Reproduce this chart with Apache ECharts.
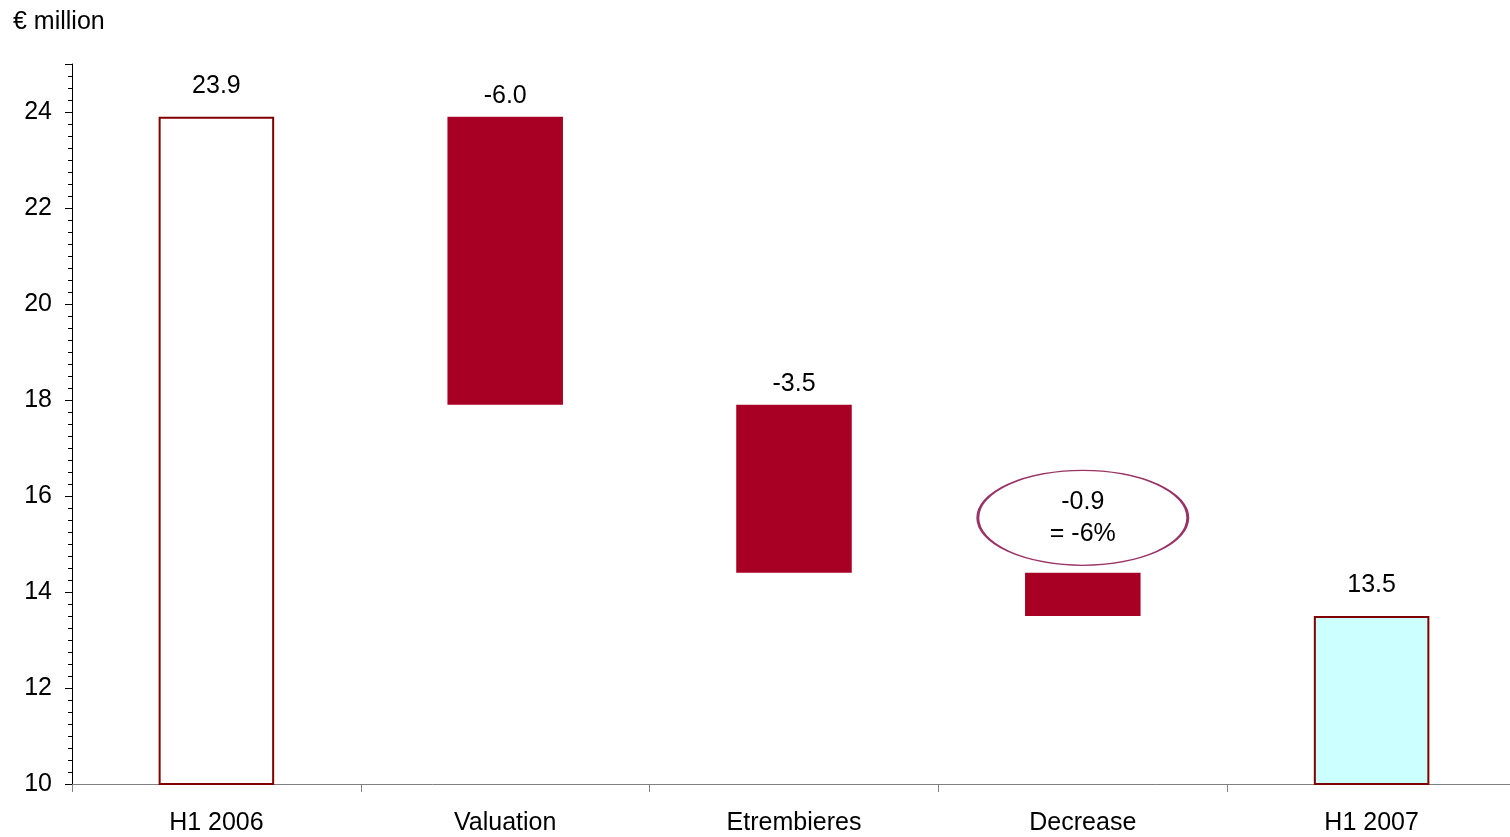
<!DOCTYPE html>
<html>
<head>
<meta charset="utf-8">
<title>€ million</title>
<script src="https://cdn.jsdelivr.net/npm/echarts@6/dist/echarts.min.js"></script>
<style>
  html, body { margin: 0; padding: 0; background: #fff; overflow: hidden; }
  /* the plot runs a few pixels past the right edge of the window */
  #chart { width: 1516px; height: 837px; }
</style>
</head>
<body>
<div id="chart"></div>
<script>
// Waterfall: opening figure, three movements, closing figure
const categories = ['H1 2006', 'Valuation', 'Etrembieres', 'Decrease', 'H1 2007'];
const openingValue = 23.9;
const changes = [-6.0, -3.5, -0.9];        // Valuation, Etrembieres, Decrease
const closingValue = 13.5;
const decreasePercent = '-6%';
const yTicks = { min: 10, max: 25, interval: 2 };

const FONT = 'Liberation Sans, Arial, sans-serif';
const FONT_SIZE = 25;
const BAR_RED = '#A70024';
const EDGE_RED = '#800000';

// Running totals give each movement bar its floating base
const baseData = [];
const moveData = [];
let running = openingValue;
baseData.push('-');
moveData.push('-');
changes.forEach(function (c) {
  const next = Math.round((running + c) * 10) / 10;
  baseData.push(Math.min(running, next));
  moveData.push(Math.abs(c));
  running = next;
});
baseData.push('-');
moveData.push('-');

const totalData = categories.map(function (_, i) {
  if (i === 0) return { value: openingValue, itemStyle: { color: '#FFFFFF' } };
  if (i === categories.length - 1) return { value: closingValue, itemStyle: { color: '#CCFFFF' } };
  return '-';
});

const chart = echarts.init(document.getElementById('chart'), null, { renderer: 'canvas' });

chart.setOption({
  animation: false,
  backgroundColor: '#ffffff',
  textStyle: { fontFamily: FONT },
  title: {
    text: '€ million',
    left: 8,
    top: 5,
    textStyle: { fontFamily: FONT, fontSize: FONT_SIZE, fontWeight: 'normal', color: '#000' }
  },
  grid: { left: 72, right: 0, top: 64, bottom: 53, containLabel: false },
  xAxis: {
    type: 'category',
    data: categories,
    axisLine: { show: true, lineStyle: { color: '#808080', width: 1 } },
    axisTick: { show: true, length: 8, alignWithLabel: false, lineStyle: { color: '#808080' } },
    axisLabel: { fontFamily: FONT, fontSize: FONT_SIZE, color: '#000', margin: 27 },
    splitLine: { show: false }
  },
  yAxis: {
    type: 'value',
    min: yTicks.min,
    max: yTicks.max,
    interval: yTicks.interval,
    axisLine: { show: true, lineStyle: { color: '#000', width: 1 } },
    axisTick: { show: true, length: 7, lineStyle: { color: '#000' } },
    minorTick: { show: true, splitNumber: 8, length: 4, lineStyle: { color: '#000' } },
    axisLabel: { fontFamily: FONT, fontSize: FONT_SIZE, color: '#000', margin: 20, showMaxLabel: false,
      formatter: function (v) { return v === yTicks.max ? '' : String(v); } },
    splitLine: { show: false }
  },
  series: [
    {
      name: 'base',
      type: 'bar',
      stack: 'fall',
      barWidth: '40%',
      data: baseData,
      itemStyle: { color: 'transparent' },
      emphasis: { disabled: true },
      silent: true
    },
    {
      name: 'movement',
      type: 'bar',
      stack: 'fall',
      barWidth: '40%',
      data: moveData.map(function (v, i) {
        if (v === '-') return '-';
        const isLast = i === categories.length - 2;
        return {
          value: v,
          label: isLast ? { show: false } : {
            show: true,
            position: 'top',
            distance: 8,
            formatter: changes[i - 1].toFixed(1)
          }
        };
      }),
      itemStyle: { color: BAR_RED },
      label: { fontFamily: FONT, fontSize: FONT_SIZE, color: '#000' },
      markPoint: {
        symbol: 'circle',
        symbolSize: [210, 95],
        symbolOffset: [0, -55],
        itemStyle: { color: '#FFFFFF', borderColor: '#993366', borderWidth: 2 },
        label: {
          show: true,
          position: 'inside',
          fontFamily: FONT,
          fontSize: FONT_SIZE,
          lineHeight: 32,
          color: '#000',
          formatter: changes[2].toFixed(1) + '\n= ' + decreasePercent
        },
        data: [{ coord: [categories[3], baseData[3] + moveData[3]] }]
      }
    },
    {
      name: 'total',
      type: 'bar',
      stack: 'fall',
      barWidth: '40%',
      data: totalData,
      itemStyle: { borderColor: EDGE_RED, borderWidth: 2 },
      label: {
        show: true,
        position: 'top',
        distance: 18,
        fontFamily: FONT,
        fontSize: FONT_SIZE,
        color: '#000',
        formatter: function (p) { return p.value.toFixed(1); }
      }
    }
  ]
});
</script>
</body>
</html>
